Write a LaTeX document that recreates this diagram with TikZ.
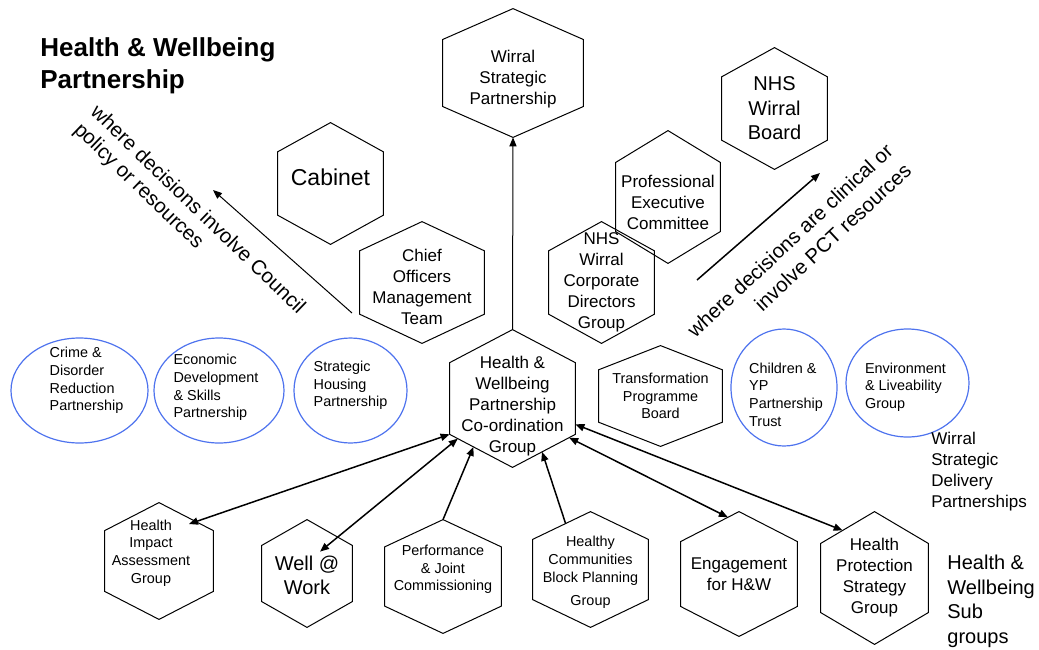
\documentclass[tikz,border=0pt]{standalone}
\usepackage{fontspec}
\setmainfont{Liberation Sans}
\usetikzlibrary{calc,shapes.geometric,arrows.meta}

\definecolor{bubbleblue}{RGB}{78,115,238}

\newcommand{\hexline}[1]{%
    \coordinate (#1-ne) at ($(#1.north east)!.24!(#1.south east)$);
    \coordinate (#1-se) at ($(#1.north east)!.76!(#1.south east)$);
    \coordinate (#1-sw) at ($(#1.north west)!.76!(#1.south west)$);
    \coordinate (#1-nw) at ($(#1.north west)!.24!(#1.south west)$);
    \draw[line width=0.5pt] (#1.north) -- (#1-ne) -- (#1-se) -- (#1.south)
        -- (#1-sw) -- (#1-nw) -- cycle;}

\begin{document}
\begin{tikzpicture}[%
    x=0.5pt, y=-0.5pt,
    >={Triangle[length=4.5pt,width=3.6pt]},
    hexbox/.style 2 args={inner sep=0pt, minimum width=#1, minimum height=#2},
    bubble/.style 2 args={ellipse, draw=bubbleblue, line width=0.6pt, inner sep=0pt,
        minimum width=#1, minimum height=#2},
    smalltxt/.style={align=center, font=\fontsize{7.2}{8.8}\selectfont},
    midtxt/.style={align=center, font=\fontsize{8.5}{10.5}\selectfont},
    bigtxt/.style={align=center, font=\fontsize{10}{12.2}\selectfont},
    link/.style={line width=0.75pt}
  ]
    \useasboundingbox (0,0) rectangle (1039,649);

    \node[hexbox={70pt}{64pt}]     (wsp)  at (513,73)      {};
    \node[hexbox={52.5pt}{60.5pt}] (cab)  at (330.5,183.5) {};
    \node[hexbox={62pt}{60.5pt}]   (comt) at (422,282.5)   {};
    \node[hexbox={52.5pt}{60.5pt}] (nwb)  at (774.5,108.5) {};
    \node[hexbox={52pt}{66pt}]     (pec)  at (668,197)     {};
    \node[hexbox={52.5pt}{60.5pt}] (ncdg) at (601.5,282.5) {};
    \node[hexbox={62.5pt}{68.5pt}] (hwb)  at (512.5,398.5) {};
    \node[hexbox={61.5pt}{50pt}]   (tpb)  at (660.5,396)   {};
    \node[hexbox={54pt}{58pt}]     (hia)  at (159,561)     {};
    \node[hexbox={45pt}{53.5pt}]   (well) at (307,573.5)   {};
    \node[hexbox={58pt}{56.5pt}]   (perf) at (443,576.5)   {};
    \node[hexbox={57.5pt}{57.5pt}] (hc)   at (590.5,569.5) {};
    \node[hexbox={58pt}{62pt}]     (eng)  at (739,574)     {};
    \node[hexbox={53.5pt}{66pt}]   (hps)  at (874.5,578)   {};

    \foreach \h in {wsp,cab,comt,nwb,pec,ncdg,hwb,tpb,hia,well,perf,hc,eng,hps} {\hexline{\h}}

    \node[midtxt] (wsp-t)  at ($(wsp)+(0,6)$)   {Wirral\\Strategic\\Partnership};
    \node[align=center, font=\fontsize{11.5}{13}\selectfont]
                  (cab-t)  at ($(cab)+(0,-6)$)  {Cabinet};
    \node[midtxt] (comt-t) at ($(comt)+(0,4)$)  {Chief\\Officers\\Management\\Team};
    \node[bigtxt] (nwb-t)  at (nwb)             {NHS\\Wirral\\Board};
    \node[midtxt] (pec-t)  at ($(pec)+(0,5)$)   {Professional\\Executive\\Committee};
    \node[midtxt] (ncdg-t) at (ncdg)            {NHS\\Wirral\\Corporate\\Directors\\Group};
    \node[midtxt] (hwb-t)  at ($(hwb)+(0,8)$)   {Health \&\\Wellbeing\\Partnership\\Co-ordination\\Group};
    \node[smalltxt] (tpb-t)  at (tpb)             {Transformation\\Programme\\Board};
    \node[smalltxt] (hia-t)  at ($(hia)+(-8,-8)$) {Health\\Impact\\Assessment\\Group};
    \node[bigtxt]   (well-t) at ($(well)+(0,2)$)  {Well @\\Work};
    \node[smalltxt] (perf-t) at ($(perf)+(0,-7)$) {Performance\\\& Joint\\Commissioning};
    \node[smalltxt] (hc-t)   at ($(hc)+(0,3)$)    {Healthy\\Communities\\Block Planning\\[3pt]Group};
    \node[midtxt]   (eng-t)  at (eng)             {Engagement\\for H\&W};
    \node[midtxt]   (hps-t)  at (hps)             {Health\\Protection\\Strategy\\Group};

    \node[bubble={68.5pt}{52.5pt}] (cdrp) at (79.5,390.5)  {};
    \node[bubble={65pt}{52.5pt}]   (edsp) at (219,390.5)   {};
    \node[bubble={56.5pt}{52.5pt}] (shp)  at (350.5,390.5) {};
    \node[bubble={53pt}{58.5pt}]   (cypt) at (784,387.5)   {};
    \node[bubble={61.5pt}{54pt}]   (elg)  at (907.5,383)   {};

    \node[smalltxt, align=left] (cdrp-t) at ($(cdrp)+(7,-10)$) {Crime \&\\Disorder\\Reduction\\Partnership};
    \node[smalltxt, align=left] (edsp-t) at ($(edsp)+(-3,-3)$) {Economic\\Development\\\& Skills\\Partnership};
    \node[smalltxt, align=left] (shp-t)  at ($(shp)+(0,-5)$)   {Strategic\\Housing\\Partnership};
    \node[smalltxt, align=left] (cypt-t) at ($(cypt)+(2,7)$)   {Children \&\\YP\\Partnership\\Trust};
    \node[smalltxt, align=left] (elg-t)  at ($(elg)+(-2,4)$)   {Environment\\\& Liveability\\Group};

    \node[anchor=north west, inner sep=0pt, align=left, font=\bfseries\fontsize{13}{16}\selectfont]
        (title) at (40,37) {Health \& Wellbeing\\Partnership};
    \node[anchor=north west, inner sep=0pt, midtxt, align=left]
        (wsdp) at (931,432) {Wirral\\Strategic\\Delivery\\Partnerships};
    \node[anchor=north west, inner sep=0pt, bigtxt, align=left]
        (hwsub) at (947,555) {Health \&\\Wellbeing\\Sub\\groups};
    \node[rotate=-44, inner sep=0pt, align=left, font=\fontsize{10.2}{12}\selectfont]
        (council) at (189,219) {where decisions involve Council\\policy or resources};
    \node[rotate=43, inner sep=0pt, align=right, font=\fontsize{10.2}{13.5}\selectfont]
        (pct) at (799,250) {where decisions are clinical or\\involve PCT resources};

    \coordinate (cfrom) at (352,313);
    \coordinate (cto)   at (213,190);
    \coordinate (pfrom) at (697,280);
    \coordinate (pto)   at (820,173);

    \path (cfrom)     edge[->, line width=0.5pt] (cto)
          (pfrom)     edge[->, link]             (pto)
          (hwb.north) edge[->, line width=0.5pt] (wsp.south);

    \path[link] (hwb-sw)                          edge[<->] ($(hia.north)!.55!(hia-ne)+(0,6)$)
                ($(hwb-sw)!.13!(hwb.south)$)      edge[<->] ($(well.north)+(13,32)$)
                (perf.north)                      edge[->]  ($(hwb-sw)!.38!(hwb.south)$)
                ($(hc.north)!.43!(hc-nw)$)        edge[->]  ($(hwb.south)!.47!(hwb-se)$)
                ($(hwb.south)!.9!(hwb-se)$)       edge[<->] ($(eng.north)!.19!(eng-nw)$)
                ($(hwb-ne)!.86!(hwb-se)$)         edge[<->] ($(hps.north)!.59!(hps-nw)$);
\end{tikzpicture}
\end{document}
